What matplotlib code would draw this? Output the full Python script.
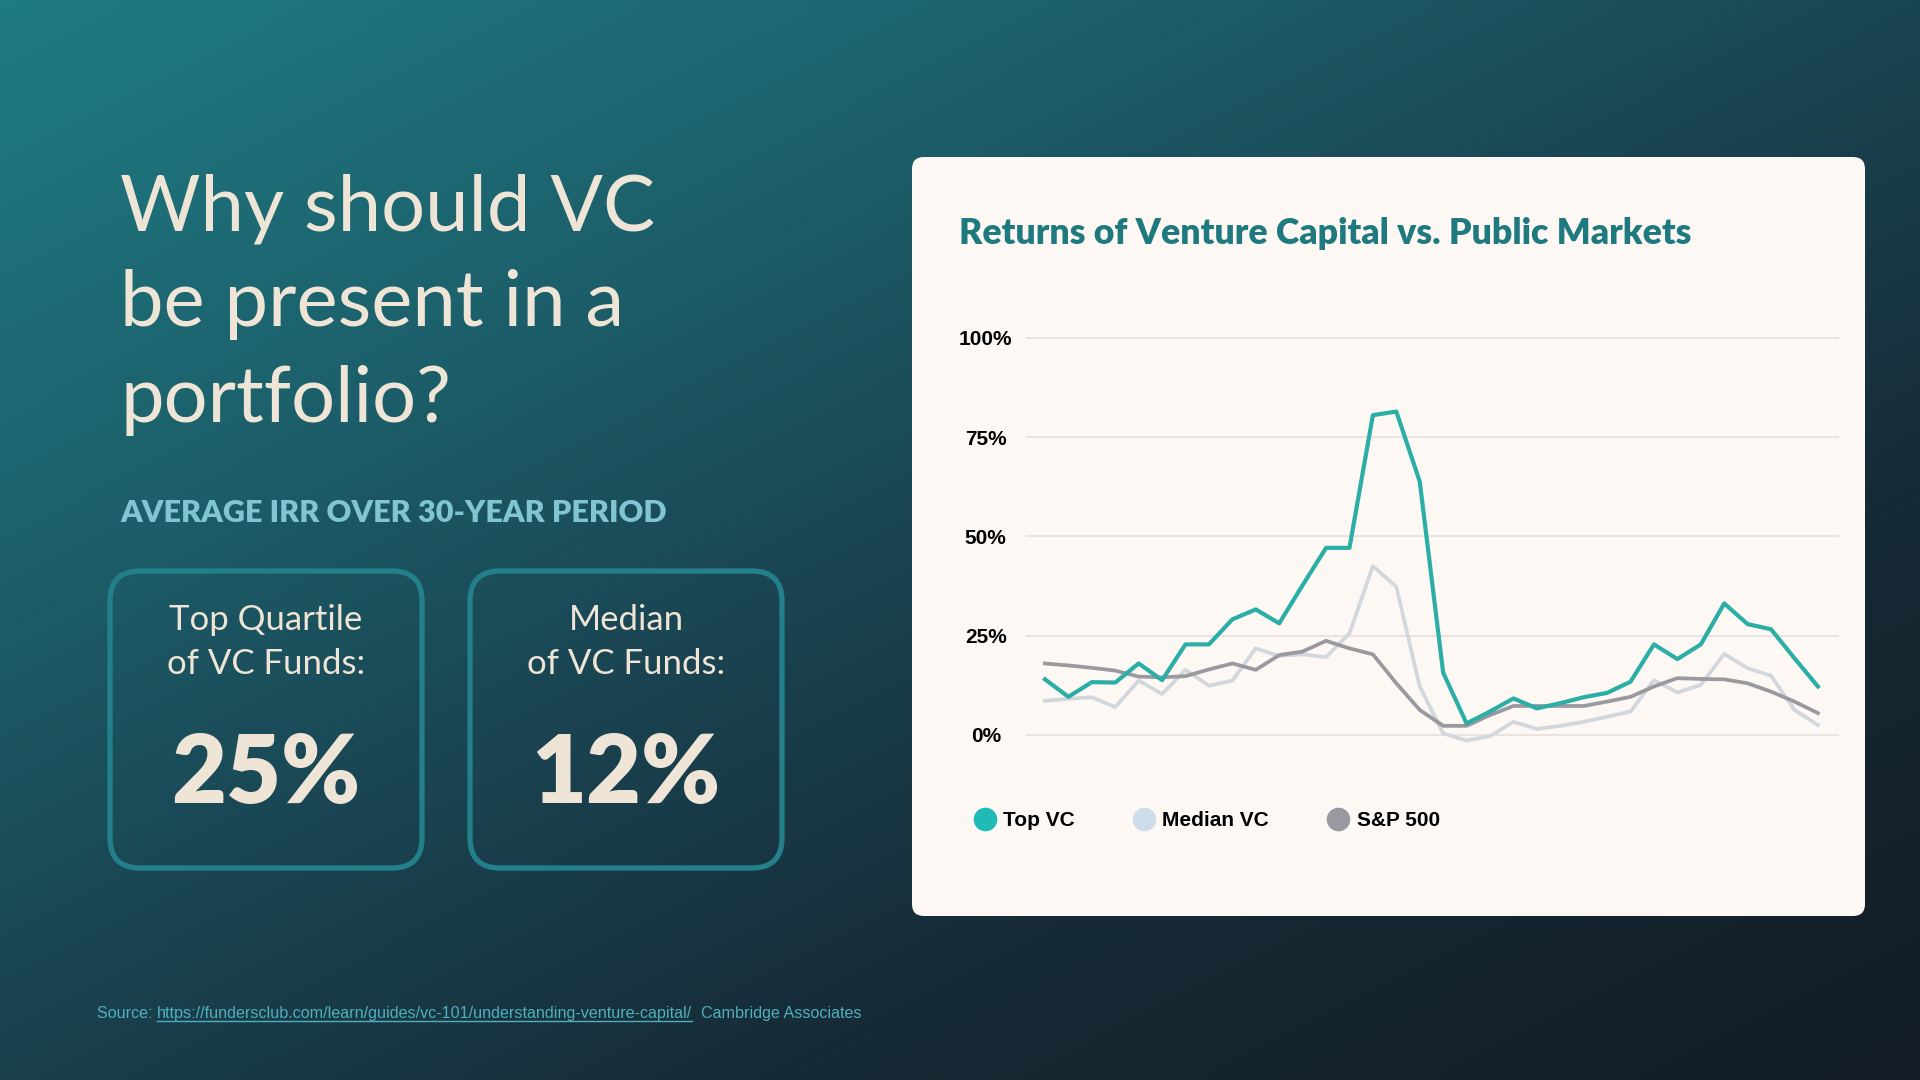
import numpy as np
import matplotlib
matplotlib.use("Agg")
import matplotlib.pyplot as plt
from matplotlib.colors import LinearSegmentedColormap
from matplotlib.patches import FancyBboxPatch
from matplotlib.lines import Line2D

# vintage years (no x labels shown on the chart)
years = list(range(1981, 2015))

# IRR values in %
top_vc = [14.0, 9.6, 13.3, 13.2, 18.0, 13.8, 22.8, 22.8, 29.1, 31.6, 28.1, 37.7,
          47.1, 47.1, 80.5, 81.4, 63.8, 15.7, 2.9, 5.9, 9.2, 6.7, 8.0, 9.5,
          10.6, 13.4, 22.8, 19.1, 22.8, 33.1, 27.9, 26.6, 19.3, 12.2]
median_vc = [8.6, 9.1, 9.5, 7.0, 13.7, 10.3, 16.4, 12.4, 13.7, 21.8, 19.9, 20.3,
             19.6, 25.6, 42.5, 37.3, 12.2, 0.4, -1.4, -0.3, 3.3, 1.5, 2.3, 3.3,
             4.6, 5.9, 13.8, 10.7, 12.6, 20.4, 16.8, 14.9, 6.3, 2.5]
sp500 = [18.0, 17.5, 16.9, 16.2, 14.7, 14.5, 14.8, 16.5, 18.0, 16.4, 20.1, 21.0,
         23.7, 21.8, 20.3, 13.0, 6.3, 2.3, 2.3, 5.0, 7.3, 7.3, 7.3, 7.3,
         8.4, 9.6, 12.2, 14.3, 14.1, 14.0, 13.0, 10.9, 8.4, 5.5]

series_names = ["Top VC", "Median VC", "S&P 500"]
yticks = [0, 25, 50, 75, 100]
ytick_labels = ["0%", "25%", "50%", "75%", "100%"]

headline = ["Why should VC", "be present in a", "portfolio?"]
subtitle = "AVERAGE IRR OVER 30-YEAR PERIOD"
box_labels = [("Top Quartile", "of VC Funds:"), ("Median", "of VC Funds:")]
box_values = ["25%", "12%"]
chart_title = "Returns of Venture Capital vs. Public Markets"
source_url = "https://fundersclub.com/learn/guides/vc-101/understanding-venture-capital/"

# colours
TEAL = "#2aaea6"
TEAL_DOT = "#20bbb7"
MED = "#d2d7de"
MED_DOT = "#cfdce9"
SP = "#9a999f"
CREAM = "#efe5d6"
CARD = "#fdf8f4"

HEAD = ["Lato", "DejaVu Sans"]
ARIAL = ["Liberation Sans", "DejaVu Sans"]

W, H = 1920, 1080
fig = plt.figure(figsize=(19.2, 10.8), dpi=100)
rend = fig.canvas.get_renderer()


def fit(txt, width_px):
    # scale font so the text is width_px wide (no condensed fonts installed)
    w = txt.get_window_extent(rend).width
    txt.set_fontsize(txt.get_fontsize() * width_px / w)
    return txt


# background axes in pixel coordinates (y down)
bg = fig.add_axes([0, 0, 1, 1], zorder=0)
bg.set_xlim(0, W)
bg.set_ylim(H, 0)
bg.axis("off")

xx, yy = np.meshgrid(np.linspace(0, 1, 480), np.linspace(0, 1, 270))
t = 0.5 * xx + 0.55 * yy
grad = LinearSegmentedColormap.from_list(
    "bg", [(0, "#1f7b83"), (0.28, "#1c5f6a"), (0.5, "#1a4250"),
           (0.72, "#162a35"), (1.0, "#131c25")])
bg.imshow(t, cmap=grad, extent=[0, W, H, 0], aspect="auto", vmin=0, vmax=1.05,
          interpolation="bicubic", zorder=0)

# headline
for i, line in enumerate(headline):
    bg.text(120, 230 + i * 96, line, fontsize=56, color=CREAM, family=HEAD,
            va="baseline", ha="left")
fit(bg.text(120, 522, subtitle, fontsize=23, color="#80c5d1", family=HEAD,
            fontweight="heavy", va="baseline", ha="left"), 549)

# stat boxes
for k, (x0, lab, val) in enumerate(zip([110, 470], box_labels, box_values)):
    bg.add_patch(FancyBboxPatch((x0, 571), 312, 297,
                                boxstyle="round,pad=0,rounding_size=30",
                                fc="none", ec="#23808a", lw=3.8, zorder=2))
    cx = x0 + 156
    bg.text(cx, 630, lab[0], fontsize=25, color=CREAM, family=HEAD,
            ha="center", va="baseline")
    bg.text(cx, 674, lab[1], fontsize=25, color=CREAM, family=HEAD,
            ha="center", va="baseline")
    fit(bg.text(cx, 803, val, fontsize=70, color=CREAM, family=HEAD,
                fontweight="heavy", ha="center", va="baseline"), 189)

# chart card
bg.add_patch(FancyBboxPatch((912, 157), 953, 759,
                            boxstyle="round,pad=0,rounding_size=12",
                            fc=CARD, ec="none", zorder=1))
fit(bg.text(959, 244, chart_title, fontsize=24, color="#1f7a80", family=HEAD,
            fontweight="heavy", ha="left", va="baseline", zorder=3), 734)

# source line with underlined url
src_col = "#4fb0bb"
t1 = bg.text(97, 1018, "Source: ", fontsize=11.6, color=src_col, family=ARIAL,
             va="baseline")
x_next = bg.transData.inverted().transform(t1.get_window_extent(rend))[1][0]
t2 = bg.text(x_next, 1018, source_url, fontsize=11.6, color=src_col,
             family=ARIAL, va="baseline")
bb = bg.transData.inverted().transform(t2.get_window_extent(rend))
bg.plot([bb[0][0], bb[1][0]], [1021, 1021], color=src_col, lw=1)
bg.text(bb[1][0], 1018, "  Cambridge Associates", fontsize=11.6, color=src_col,
        family=ARIAL, va="baseline")

# line chart
ax = fig.add_axes([1026 / W, 1 - 760 / H, 813 / W, 440 / H], zorder=2)
ax.patch.set_alpha(0)
for v in yticks:
    ax.axhline(v, color="#e7e1de", lw=1.2, zorder=0)
ax.plot(years, median_vc, color=MED, lw=2.7, zorder=2)
ax.plot(years, sp500, color=SP, lw=2.7, zorder=3)
ax.plot(years, top_vc, color=TEAL, lw=3.0, zorder=4)
ax.set_xlim(years[0] - 0.81, years[0] + 33.9)
ax.set_ylim(-6.3, 104.45)
ax.set_xticks([])
ax.set_yticks(yticks)
ax.set_yticklabels(ytick_labels, fontsize=15, fontweight="bold",
                   family=ARIAL, ha="center")
ax.tick_params(axis="y", length=0, pad=29)
for s in ax.spines.values():
    s.set_visible(False)

handles = [Line2D([], [], ls="none", marker="o", markersize=17, mfc=c, mec="none")
           for c in [TEAL_DOT, MED_DOT, SP]]
leg = ax.legend(handles, series_names, loc="center left",
                bbox_to_anchor=(973 / W, 1 - 821 / H), bbox_transform=fig.transFigure,
                ncol=3, frameon=False, handlelength=1.15, handletextpad=0.3,
                columnspacing=2.75, borderpad=0, borderaxespad=0,
                prop={"family": ARIAL, "weight": "bold", "size": 15})

fig.savefig("out.png", dpi=100)
